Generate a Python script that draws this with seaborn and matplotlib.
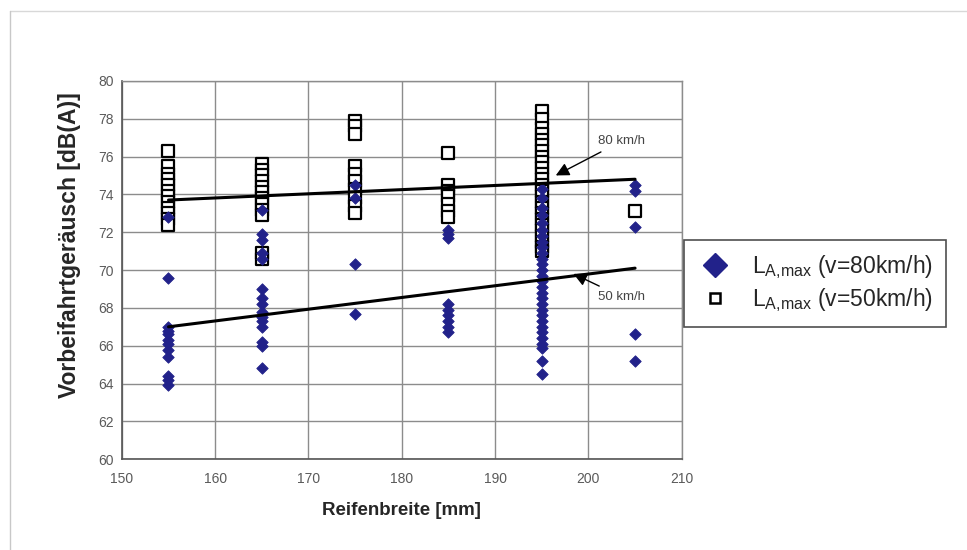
import numpy as np
import pandas as pd
import matplotlib
matplotlib.use("Agg")
import matplotlib.pyplot as plt
from matplotlib.lines import Line2D
import seaborn as sns

# ---------------- data ----------------
widths = [155, 165, 175, 185, 195, 205]

# L_A,max (v=80km/h) - filled diamonds
d80_155 = [72.8, 67.0, 66.8, 66.6, 66.3, 66.1, 65.8, 65.4, 64.4, 64.2, 63.9, 69.6]
d80_165 = [73.2, 71.9, 71.6, 70.9, 70.6, 69.0, 68.5, 68.2, 67.8, 67.5, 67.3, 67.0, 66.2, 66.0, 64.8]
d80_175 = [74.5, 73.8, 70.3, 67.7]
d80_185 = [72.1, 71.9, 71.7, 68.2, 67.9, 67.6, 67.3, 67.0, 66.7]
d80_195 = [74.3, 73.8, 73.3, 72.9, 72.5, 72.1, 71.8, 71.5, 71.2, 70.9, 70.6, 70.3,
           70.0, 69.7, 69.4, 69.1, 68.8, 68.5, 68.2, 67.9, 67.6, 67.3, 67.0, 66.7,
           66.4, 66.1, 65.9, 65.2, 64.5]
d80_205 = [74.5, 74.2, 72.3, 66.6, 65.2]

# L_A,max (v=50km/h) - open squares
s50_155 = [76.3, 75.5, 75.1, 74.8, 74.5, 74.2, 73.9, 73.6, 73.3, 73.0, 72.7, 72.4]
s50_165 = [75.6, 75.3, 75.0, 74.7, 74.4, 74.1, 73.8, 73.5, 73.2, 72.9, 70.9, 70.6]
s50_175 = [77.9, 77.6, 77.2, 75.5, 75.1, 74.7, 74.3, 73.8, 73.4, 73.0]
s50_185 = [76.2, 74.5, 74.2, 73.9, 73.5, 73.1, 72.8]
s50_195 = [78.4, 78.0, 77.5, 77.2, 76.9, 76.6, 76.3, 76.0, 75.7, 75.4, 75.1, 74.8,
           74.5, 74.2, 73.9, 73.6, 73.3, 73.0, 72.7, 72.4, 72.1, 71.8, 71.5, 71.2, 71.0]
s50_205 = [73.1]

# linear trend lines (end points)
trend_x = [155, 205]
trend_80 = [73.7, 74.8]
trend_50 = [67.0, 70.1]

x_ticks = [150, 160, 170, 180, 190, 200, 210]
y_ticks = [60, 62, 64, 66, 68, 70, 72, 74, 76, 78, 80]

legend_labels = [r"L$_{\mathrm{A{,}max}}$ (v=80km/h)", r"L$_{\mathrm{A{,}max}}$ (v=50km/h)"]
x_label = "Reifenbreite [mm]"
y_label = "Vorbeifahrtgeräusch [dB(A)]"
ann_80 = "80 km/h"
ann_50 = "50 km/h"

# ---------------- build tables ----------------
d_groups = [d80_155, d80_165, d80_175, d80_185, d80_195, d80_205]
s_groups = [s50_155, s50_165, s50_175, s50_185, s50_195, s50_205]
df80 = pd.DataFrame({"w": np.concatenate([[w] * len(g) for w, g in zip(widths, d_groups)]),
                     "v": np.concatenate(d_groups)})
df50 = pd.DataFrame({"w": np.concatenate([[w] * len(g) for w, g in zip(widths, s_groups)]),
                     "v": np.concatenate(s_groups)})

# ---------------- style ----------------
sns.set_theme(style="white")
plt.rcParams["font.family"] = ["Liberation Sans", "DejaVu Sans"]
plt.rcParams["mathtext.fontset"] = "custom"
plt.rcParams["mathtext.rm"] = "Liberation Sans"
plt.rcParams["mathtext.it"] = "Liberation Sans:italic"
plt.rcParams["mathtext.bf"] = "Liberation Sans:bold"

fig = plt.figure(figsize=(9.67, 5.5), dpi=100)
# faint outer frame (top and left edges visible in the reference)
fig.add_artist(Line2D([0.0103, 1.0], [0.98, 0.98], transform=fig.transFigure,
                      color="#d8d8d8", lw=1))
fig.add_artist(Line2D([0.0103, 0.0103], [0.0, 0.98], transform=fig.transFigure,
                      color="#c8c8c8", lw=1))
ax = fig.add_axes([0.126, 0.165, 0.579, 0.688])

navy = "#22228a"

sns.scatterplot(data=df50, x="w", y="v", marker="s", s=68, facecolor="white",
                edgecolor="black", linewidth=1.6, ax=ax, zorder=3, legend=False)
sns.scatterplot(data=df80, x="w", y="v", marker="D", s=34, color=navy,
                edgecolor=navy, linewidth=0.6, ax=ax, zorder=4, legend=False)

sns.lineplot(x=trend_x, y=trend_80, color="black", lw=2.2, ax=ax, zorder=5)
sns.lineplot(x=trend_x, y=trend_50, color="black", lw=2.2, ax=ax, zorder=5)

ax.annotate(ann_80, xy=(196.5, 75.0), xytext=(201.0, 76.8), fontsize=9.5, color="#444",
            va="center", ha="left",
            arrowprops=dict(arrowstyle="-|>", color="black", lw=1, mutation_scale=20,
                            shrinkA=2, shrinkB=0), zorder=6)
ax.annotate(ann_50, xy=(198.4, 69.8), xytext=(201.0, 68.6), fontsize=9.5, color="#444",
            va="center", ha="left",
            arrowprops=dict(arrowstyle="-|>", color="black", lw=1, mutation_scale=20,
                            shrinkA=2, shrinkB=0), zorder=6)

ax.set_xlim(150, 210)
ax.set_ylim(60, 80)
ax.set_xticks(x_ticks)
ax.set_yticks(y_ticks)
ax.grid(True, color="#8c8c8c", lw=1)
ax.set_axisbelow(True)
for side in ["top", "right"]:
    ax.spines[side].set_color("#8c8c8c")
    ax.spines[side].set_linewidth(1)
for side in ["left", "bottom"]:
    ax.spines[side].set_color("#555555")
    ax.spines[side].set_linewidth(1.2)
ax.tick_params(direction="inout", length=8, width=1, color="#555555",
               labelcolor="#5a5a5a", labelsize=10)
ax.tick_params(axis="x", pad=5)
ax.tick_params(axis="y", pad=2)

ax.set_xlabel(x_label, fontsize=13.5, fontweight="bold", labelpad=12)
ax.set_ylabel(y_label, fontsize=16.5, fontweight="bold")
ax.yaxis.set_label_coords(-0.073, 0.566)

handles = [Line2D([], [], marker="D", ls="none", color=navy, markersize=12),
           Line2D([], [], marker="s", ls="none", markerfacecolor="white",
                  markeredgecolor="black", markeredgewidth=1.8, markersize=7.5)]
leg = ax.legend(handles, legend_labels, loc="upper left", bbox_to_anchor=(1.004, 0.58),
                fontsize=16.5, frameon=True, fancybox=False, edgecolor="#222222",
                borderpad=0.6, handletextpad=0.85, labelspacing=0.2, handlelength=1.5,
                borderaxespad=0)
leg.get_frame().set_linewidth(1.2)

fig.savefig("out.png", dpi=100)
